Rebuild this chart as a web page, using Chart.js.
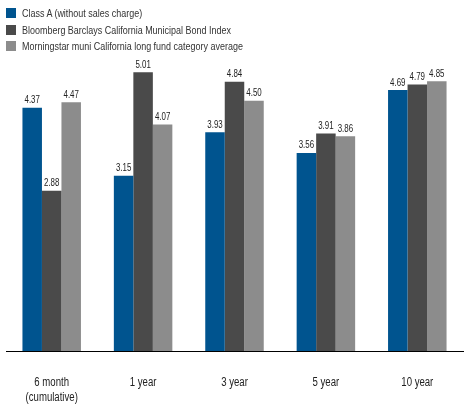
<!DOCTYPE html>
<html>
<head>
<meta charset="utf-8">
<script src="https://cdn.jsdelivr.net/npm/chart.js@4.4.0/dist/chart.umd.min.js"></script>
<style>
  html, body { margin: 0; padding: 0; background: #fff; }
  #wrap { position: relative; width: 466px; height: 405px; }
  #legend { position: absolute; left: 6px; top: 5px; font-family: "Liberation Sans", sans-serif; font-size: 11.5px; color: #333; }
  #legend div { height: 16.5px; line-height: 16.5px; white-space: nowrap; }
  #legend span.sw { display: inline-block; width: 10px; height: 10px; margin-right: 6px; vertical-align: -1px; }
  #legend span.tx { display: inline-block; transform: scaleX(0.78); transform-origin: left center; }
</style>
</head>
<body>
<div id="wrap">
  <canvas id="perfChart" width="466" height="405"></canvas>
  <div id="legend"></div>
</div>
<script>
const categories = [["6 month", "(cumulative)"], ["1 year"], ["3 year"], ["5 year"], ["10 year"]];
const seriesNames = [
  "Class A (without sales charge)",
  "Bloomberg Barclays California Municipal Bond Index",
  "Morningstar muni California long fund category average"
];
const classA = [4.37, 3.15, 3.93, 3.56, 4.69];
const bondIndex = [2.88, 5.01, 4.84, 3.91, 4.79];
const categoryAvg = [4.47, 4.07, 4.50, 3.86, 4.85];
const colors = ["#00548f", "#4a4a4a", "#8c8c8c"];

// legend (html)
const legendEl = document.getElementById("legend");
seriesNames.forEach((name, i) => {
  const row = document.createElement("div");
  row.innerHTML = '<span class="sw" style="background:' + colors[i] + '"></span><span class="tx">' + name + '</span>';
  legendEl.appendChild(row);
});

// condensed text helper
function narrowText(ctx, text, x, y, sx) {
  ctx.save();
  ctx.translate(x, y);
  ctx.scale(sx, 1);
  ctx.fillText(text, 0, 0);
  ctx.restore();
}

// value labels + category labels
const textPlugin = {
  id: "textPlugin",
  afterDatasetsDraw(chart) {
    const ctx = chart.ctx;
    ctx.save();
    ctx.font = "11px 'Liberation Sans', sans-serif";
    ctx.fillStyle = "#222";
    ctx.textAlign = "center";
    ctx.textBaseline = "bottom";
    chart.data.datasets.forEach((ds, di) => {
      chart.getDatasetMeta(di).data.forEach((bar, i) => {
        narrowText(ctx, ds.data[i].toFixed(2), bar.x, bar.y - 2, 0.72);
      });
    });

    // category labels under the axis
    const xs = chart.scales.x;
    ctx.font = "12px 'Liberation Sans', sans-serif";
    ctx.textBaseline = "middle";
    categories.forEach((lines, i) => {
      const x = xs.getPixelForValue(i);
      lines.forEach((line, li) => {
        narrowText(ctx, line, x, chart.chartArea.bottom + 32 + li * 15, 0.8);
      });
    });
    ctx.restore();
  }
};

const ctx = document.getElementById("perfChart").getContext("2d");
new Chart(ctx, {
  type: "bar",
  data: {
    labels: categories.map((c) => c.join(" ")),
    datasets: [
      { label: seriesNames[0], data: classA, backgroundColor: colors[0] },
      { label: seriesNames[1], data: bondIndex, backgroundColor: colors[1] },
      { label: seriesNames[2], data: categoryAvg, backgroundColor: colors[2] }
    ]
  },
  options: {
    responsive: false,
    animation: false,
    layout: { padding: { left: 6, right: 3, top: 45, bottom: 0 } },
    datasets: { bar: { categoryPercentage: 0.64, barPercentage: 1.0 } },
    scales: {
      x: {
        grid: { display: false, drawTicks: false },
        border: { display: true, color: "#000", width: 1 },
        ticks: { display: false },
        afterFit(scale) { scale.height = 54; }
      },
      y: {
        display: false,
        min: 0,
        max: 5.5
      }
    },
    plugins: {
      legend: { display: false },
      tooltip: { enabled: false }
    }
  },
  plugins: [textPlugin]
});
</script>
</body>
</html>
